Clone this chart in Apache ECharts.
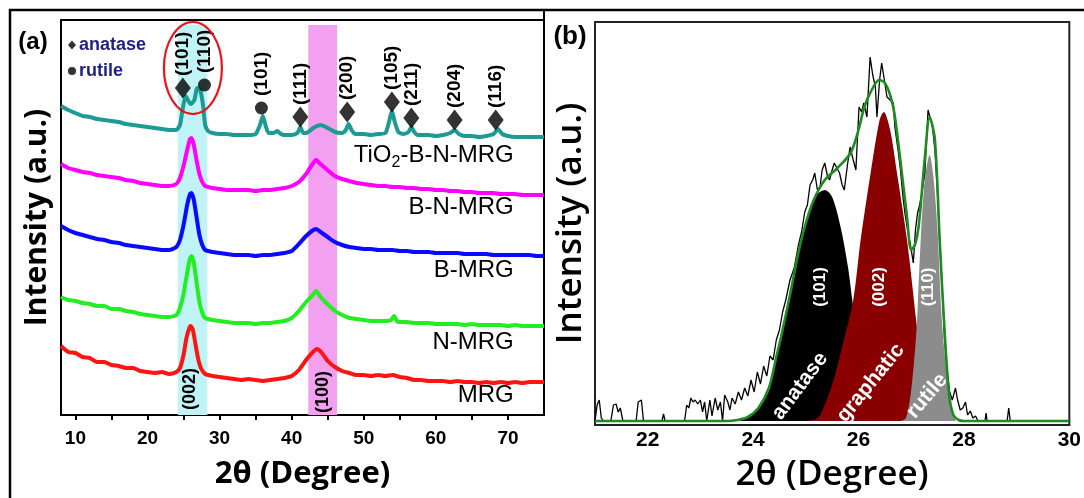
<!DOCTYPE html>
<html><head><meta charset="utf-8">
<script src="https://cdn.jsdelivr.net/npm/echarts@6/dist/echarts.min.js"></script>
<style>html,body{margin:0;padding:0;background:#fff}#c{width:1084px;height:498px}</style>
</head><body><div id="c"></div>
<script>
// ---------- Panel (a) data: [2theta, intensity (offset, a.u.)] ----------
const xTicksA = [10,15,20,25,30,35,40,45,50,55,60,65,70];
const xLabelsA = [10,20,30,40,50,60,70];
const xLabelsB = [22,24,26,28,30];

const MRG = [[8,69],[9,63],[10,62],[11,58],[12,57],[13,53],[14,53],[15,50],[16,49],[17,47],[18,47],[19,44],[20,43],[21,42],[22,43],[23,41],[24,43],[24.5,47],[25,60],[25.4,77],[25.8,87],[26,89],[26.3,85],[26.6,73],[27,57],[27.4,47],[28,41],[29,39],[30,38],[31,37],[32,36],[33,35],[34,36],[35,35],[36,34],[37,35],[38,36],[39,37],[40,39],[41,45],[42,55],[42.7,61],[43.5,66],[44.2,62],[45,54],[46,48],[47,44],[48,42],[49,40],[50,40],[51,39],[52,40],[53,39],[54,40],[55,38],[56,37],[57,35],[58,35],[59,34],[60,34],[61,34],[62,33],[63,34],[64,33],[65,33],[66,32],[67,33],[68,32],[69,33],[70,32],[71,33],[72,32],[73,33],[74,33],[75,33]];
const N_MRG = [[8,118],[9,115],[10,114],[11,112],[12,111],[13,109],[14,109],[15,106],[16,106],[17,104],[18,103],[19,101],[20,100],[21,99],[22,98],[23,98],[24,100],[24.5,107],[25,121],[25.5,142],[25.9,157],[26.1,159],[26.4,153],[26.8,133],[27.2,113],[27.6,102],[28,97],[29,95],[30,94],[31,93],[32,92],[33,92],[34,92],[35,91],[36,92],[37,92],[38,93],[39,94],[40,97],[41,104],[42,113],[42.8,119],[43.4,124],[44,118],[44.8,112],[46,104],[47,100],[48,97],[49,96],[50,95],[51,94],[52,94],[53,94],[53.8,95],[54.2,99],[54.6,94],[55,93],[56,93],[57,92],[58,92],[59,92],[60,91],[61,91],[62,91],[63,91],[64,90],[65,91],[66,90],[67,90],[68,90],[69,90],[70,89],[71,90],[72,89],[73,89],[74,89],[75,89]];
const B_MRG = [[8,189],[9,185],[10,182],[11,180],[12,178],[13,176],[14,175],[15,173],[16,172],[17,170],[18,169],[19,168],[20,167],[21,166],[22,165],[23,165],[24,168],[24.5,175],[25,190],[25.5,210],[25.9,221],[26.1,222],[26.4,216],[26.8,198],[27.2,180],[27.6,170],[28,165],[29,163],[30,162],[31,161],[32,160],[33,160],[34,160],[35,159],[36,160],[37,160],[38,161],[39,162],[40,164],[41,171],[42,179],[42.8,184],[43.4,186],[44,183],[44.8,179],[46,173],[47,170],[48,168],[49,167],[50,166],[51,166],[52,165],[53,165],[54,165],[55,164],[56,164],[57,163],[58,163],[59,163],[60,162],[61,162],[62,162],[63,162],[64,161],[65,161],[66,161],[67,161],[68,160],[69,160],[70,160],[71,160],[72,160],[73,160],[74,159],[75,159]];
const BN_MRG = [[8,251],[9,247],[10,245],[11,243],[12,242],[13,240],[14,239],[15,238],[16,237],[17,235],[18,234],[19,232],[20,231],[21,230],[22,229],[23,229],[24,231],[24.5,237],[25,249],[25.5,265],[25.9,276],[26.1,277],[26.4,271],[26.8,255],[27.2,241],[27.6,233],[28,229],[29,227],[30,226],[31,225],[32,225],[33,225],[34,225],[35,224],[36,225],[37,225],[38,226],[39,227],[40,229],[41,233],[42,241],[42.8,250],[43.4,255],[44,251],[44.8,246],[46,239],[47,236],[48,234],[49,232],[50,231],[51,230],[52,229],[53,229],[54,228],[55,228],[56,227],[57,227],[58,226],[59,226],[60,225],[61,225],[62,224],[63,224],[64,223],[65,223],[66,222],[67,222],[68,222],[69,221],[70,221],[71,221],[72,220],[73,220],[74,220],[75,220]];
const TIO2_BN_MRG = [[8,309],[9,305],[10,302],[11,299],[12,298],[13,296],[14,295],[15,294],[16,293],[17,291],[18,290],[19,289],[20,288],[21,287],[22,286],[23,285],[24,285],[24.5,290],[24.9,307],[25.3,319],[25.6,315],[26,311],[26.5,315],[26.9,327],[27.3,325],[27.7,310],[28,290],[28.4,284],[29,282],[30,281],[31,281],[32,280],[33,280],[34,280],[35,281],[35.6,290],[36,299],[36.4,289],[36.8,282],[37.5,282],[38,284],[38.5,281],[39,280],[40,280],[40.8,282],[41.2,288],[41.6,282],[42,282],[43,287],[44,290],[45,287],[46,283],[47,282],[47.5,285],[47.9,291],[48.3,285],[48.8,281],[50,281],[51,280],[52,281],[53,282],[53.5,293],[53.9,304],[54.3,293],[54.8,283],[55.5,281],[56.2,283],[56.6,288],[57,283],[57.5,280],[58,280],[59,280],[60,279],[61,280],[62,282],[62.6,285],[63.2,281],[64,279],[65,279],[66,278],[67,279],[68,281],[68.6,286],[69.2,281],[70,279],[71,278],[72,278],[73,278],[74,278],[75,278]];

const seriesNamesA = ['TiO2-B-N-MRG','B-N-MRG','B-MRG','N-MRG','MRG'];
const anataseMarks = [[24.9,327,'(101)'],[41.2,298,'(111)'],[47.7,303,'(200)'],[53.9,313,'(105)'],[56.6,297,'(211)'],[62.6,295,'(204)'],[68.3,295,'(116)']];
const rutileMarks = [[27.9,330,'(110)'],[35.8,307,'(101)']];
const bandsA = [[24.2,28.3,'(002)'],[42.3,46.3,'(100)']];

// ---------- Panel (b) data: [2theta, intensity] ----------
const rawB = [[21.00,0],[21.04,16],[21.08,21],[21.12,3],[21.16,0],[21.30,0],[21.35,16],[21.40,17],[21.44,9],[21.48,13],[21.53,0],[21.78,0],[21.82,19],[21.88,21],[21.92,0],[22.27,0],[22.30,7],[22.33,0],[22.70,0],[22.74,16],[22.78,13],[22.82,23],[22.86,19],[22.90,21],[22.95,17],[23.00,21],[23.04,9],[23.08,19],[23.12,0],[23.18,21],[23.22,5],[23.28,23],[23.33,11],[23.38,19],[23.42,0],[23.46,26],[23.52,19],[23.56,11],[23.60,23],[23.66,17],[23.72,29],[23.78,21],[23.84,33],[23.90,25],[23.96,41],[24.02,29],[24.08,49],[24.14,37],[24.20,55],[24.26,45],[24.32,65],[24.38,61],[24.44,81],[24.50,91],[24.56,109],[24.62,121],[24.70,141],[24.78,153],[24.86,176],[24.92,189],[24.98,209],[25.03,216],[25.08,236],[25.13,241],[25.17,248],[25.22,231],[25.27,234],[25.31,251],[25.36,258],[25.41,245],[25.45,241],[25.50,251],[25.54,258],[25.59,253],[25.64,248],[25.69,236],[25.73,231],[25.79,256],[25.84,274],[25.90,261],[25.95,251],[26.01,314],[26.06,309],[26.10,318],[26.16,304],[26.22,364],[26.27,346],[26.32,334],[26.35,304],[26.40,341],[26.44,358],[26.49,341],[26.54,324],[26.60,321],[26.66,318],[26.69,294],[26.75,271],[26.79,254],[26.84,226],[26.88,208],[26.93,191],[26.98,178],[27.04,158],[27.08,191],[27.12,208],[27.16,216],[27.20,228],[27.26,248],[27.30,291],[27.32,311],[27.36,303],[27.40,296],[27.45,271],[27.50,226],[27.54,181],[27.59,131],[27.63,84],[27.68,51],[27.73,29],[27.78,21],[27.84,33],[27.88,21],[27.93,11],[27.98,13],[28.03,19],[28.07,6],[28.12,10],[28.17,3],[28.22,5],[28.27,0],[28.40,0],[28.42,8],[28.44,0],[28.82,0],[28.85,13],[28.88,0],[30.00,0]];
const fitB = [[21.0,0],[23.5,0],[23.7,1],[23.9,4],[24.1,13],[24.3,33],[24.44,64],[24.53,84],[24.7,126],[24.85,166],[24.98,194],[25.15,221],[25.36,241],[25.6,253],[25.85,268],[26.0,291],[26.11,314],[26.25,331],[26.39,341],[26.5,338],[26.6,326],[26.68,308],[26.8,258],[26.92,204],[27.0,171],[27.07,176],[27.14,194],[27.26,264],[27.35,304],[27.45,281],[27.54,181],[27.64,84],[27.72,26],[27.8,6],[27.9,1],[28.0,0],[30.0,0]];
const anataseFit = [[23.7,0],[23.9,4],[24.1,14],[24.3,36],[24.5,76],[24.7,126],[24.9,180],[25.08,214],[25.2,226],[25.36,231],[25.5,224],[25.66,194],[25.8,154],[25.9,114],[26.0,81],[26.2,31],[26.4,9],[26.6,1],[26.8,0]];
const graphiticFit = [[25.0,0],[25.2,2],[25.3,9],[25.5,36],[25.7,76],[25.9,121],[26.04,181],[26.23,248],[26.4,301],[26.48,309],[26.6,291],[26.73,248],[26.92,181],[27.1,98],[27.2,51],[27.3,16],[27.4,3],[27.5,0]];
const rutileFit = [[26.8,0],[26.9,3],[27.0,31],[27.1,91],[27.15,148],[27.24,231],[27.35,266],[27.42,245],[27.5,190],[27.57,110],[27.63,70],[27.7,35],[27.78,10],[27.85,0]];
const peakNamesB = ['anatase','graphatic','rutile'];
const peakHklB = ['(101)','(002)','(110)'];

// ---------- chart ----------
const chart = echarts.init(document.getElementById('c'), null, {renderer: 'canvas'});
const BOLD_TICK = {fontFamily: 'Liberation Sans', fontWeight: 'bold', color: '#000'};
const colorsA = ['#1d9a94', '#ff00ff', '#0a0aff', '#22ee22', '#ff1414'];
const dataA = [TIO2_BN_MRG, BN_MRG, B_MRG, N_MRG, MRG];

const series = [];
series.push({
  type: 'line', xAxisIndex: 0, yAxisIndex: 0, data: [], silent: true, z: 1,
  markArea: {
    silent: true,
    data: [
      [{xAxis: bandsA[0][0], yAxis: 0, itemStyle: {color: '#bff3f6'}}, {xAxis: bandsA[0][1], yAxis: 390}],
      [{xAxis: bandsA[1][0], yAxis: 0, itemStyle: {color: '#f4a0f0'}}, {xAxis: bandsA[1][1], yAxis: 390}]
    ]
  }
});
dataA.forEach((d, i) => {
  series.push({
    name: seriesNamesA[i], type: 'line', xAxisIndex: 0, yAxisIndex: 0, data: d,
    showSymbol: false, smooth: 0.2, z: 3, silent: true,
    lineStyle: {color: colorsA[i], width: 4}
  });
});
series.push({name: 'anatase', type: 'scatter', xAxisIndex: 0, yAxisIndex: 0, data: anataseMarks,
  symbol: 'diamond', symbolSize: [16, 21], itemStyle: {color: '#000'}, z: 5, silent: true});
series.push({name: 'rutile', type: 'scatter', xAxisIndex: 0, yAxisIndex: 0, data: rutileMarks,
  symbol: 'circle', symbolSize: 13, itemStyle: {color: '#000'}, z: 5, silent: true});

// panel b
const fillColors = ['#000000', '#8a0000', '#8c8c8c'];
[anataseFit, graphiticFit, rutileFit].forEach((d, i) => {
  series.push({type: 'line', xAxisIndex: 1, yAxisIndex: 1, data: d, showSymbol: false, smooth: 0.3,
    lineStyle: {width: 0}, areaStyle: {color: fillColors[i], opacity: 1}, z: 2 + i, silent: true});
});
series.push({type: 'line', xAxisIndex: 1, yAxisIndex: 1, data: rawB, showSymbol: false,
  lineStyle: {color: '#000', width: 1.3}, z: 6, silent: true});
series.push({type: 'line', xAxisIndex: 1, yAxisIndex: 1, data: fitB, showSymbol: false, smooth: 0.3,
  lineStyle: {color: '#1f8a1f', width: 2.6}, z: 7, silent: true});

const option = {
  animation: false,
  backgroundColor: '#fff',
  legend: {
    data: [{name: 'anatase', icon: 'diamond'}, {name: 'rutile', icon: 'circle'}],
    orient: 'vertical', left: 63, top: 31, itemWidth: 8, itemHeight: 9, itemGap: 8,
    selectedMode: false,
    textStyle: {fontFamily: 'Liberation Sans', fontWeight: 'bold', fontSize: 18, color: '#1e1e88', padding: [0,0,0,-2]}
  },
  grid: [
    {left: 61, top: 20, width: 483, height: 395, show: true, borderColor: '#000', borderWidth: 2, backgroundColor: 'transparent'},
    {left: 595, top: 22, width: 479, height: 403, show: true, borderColor: '#222', borderWidth: 2, backgroundColor: 'transparent'}
  ],
  xAxis: [
    {gridIndex: 0, type: 'value', min: 8, max: 75, splitLine: {show: false},
     axisLine: {show: true, onZero: false, lineStyle: {color: '#000', width: 2}},
     axisTick: {show: true, customValues: xTicksA, length: 5, lineStyle: {color: '#000', width: 2}},
     axisLabel: Object.assign({customValues: xLabelsA, fontSize: 19, margin: 14}, BOLD_TICK),
     name: '2θ (Degree)', nameLocation: 'middle', nameGap: 44,
     nameTextStyle: {fontFamily: 'Open Sans', fontWeight: 'bold', fontSize: 31, color: '#000'}},
    {gridIndex: 1, type: 'value', min: 21, max: 30, splitLine: {show: false},
     axisLine: {show: true, onZero: false, lineStyle: {color: '#222', width: 2}},
     axisTick: {show: false},
     axisLabel: Object.assign({customValues: xLabelsB, fontSize: 21, margin: 5}, BOLD_TICK),
     name: '2θ (Degree)', nameLocation: 'middle', nameGap: 33,
     nameTextStyle: {fontFamily: 'Open Sans', fontWeight: 600, fontSize: 35, color: '#000'}}
  ],
  yAxis: [
    {gridIndex: 0, type: 'value', min: 0, max: 395, splitLine: {show: false},
     axisLine: {show: false}, axisTick: {show: false}, axisLabel: {show: false},
     name: 'Intensity (a.u.)', nameLocation: 'middle', nameGap: 9, nameRotate: 90,
     nameTextStyle: {fontFamily: 'Open Sans', fontWeight: 'bold', fontSize: 30, color: '#000'}},
    {gridIndex: 1, type: 'value', min: -4, max: 399, splitLine: {show: false},
     axisLine: {show: false}, axisTick: {show: false}, axisLabel: {show: false},
     name: 'Intensity (a.u.)', nameLocation: 'middle', nameGap: 6, nameRotate: 90,
     nameTextStyle: {fontFamily: 'Open Sans', fontWeight: 600, fontSize: 35, color: '#000'}}
  ],
  series: series
};
chart.setOption(option);

// ---------- annotations positioned through the axes ----------
const pA = (x, y) => chart.convertToPixel({gridIndex: 0}, [x, y]);
const pB = (x, y) => chart.convertToPixel({gridIndex: 1}, [x, y]);
const g = [];
// outer frame
g.push({type: 'rect', shape: {x: 10, y: 10, width: 1100, height: 520}, style: {fill: 'none', stroke: '#000', lineWidth: 2.5}, z: 100, silent: true});
g.push({type: 'line', shape: {x1: 544, y1: 10, x2: 544, y2: 21}, style: {stroke: '#000', lineWidth: 2}, z: 100, silent: true});
// panel letters
g.push({type: 'text', x: 33, y: 42, style: {text: '(a)', font: 'bold 24px "Liberation Sans"', fill: '#000', align: 'center', verticalAlign: 'middle'}, z: 100});
g.push({type: 'text', x: 570, y: 37, style: {text: '(b)', font: 'bold 26px "Liberation Sans"', fill: '#000', align: 'center', verticalAlign: 'middle'}, z: 100});
// hkl labels above the TiO2 markers (read bottom to top)
anataseMarks.concat(rutileMarks).forEach(m => {
  const p = pA(m[0], m[1]);
  g.push({type: 'text', x: p[0], y: p[1] - 12, rotation: Math.PI / 2, z: 100,
    style: {text: m[2], font: 'bold 19px "Liberation Sans"', fill: '#000', align: 'left', verticalAlign: 'middle'}});
});
// series name labels (right aligned at 2θ = 70.8)
const nameLevels = [260, 208, 145, 73, 20];
nameLevels.forEach((lv, i) => {
  const p = pA(70.8, lv);
  if (i === 0) {
    g.push({type: 'text', x: p[0], y: p[1], z: 100, style: {
      text: '{a|TiO}{s|2}{a|-B-N-MRG}', align: 'right', verticalAlign: 'middle',
      rich: {a: {fontFamily: 'Liberation Sans', fontSize: 24, fill: '#000', lineHeight: 28},
             s: {fontFamily: 'Liberation Sans', fontSize: 16, fill: '#000', lineHeight: 28, padding: [16, 0, 0, 0]}}
    }});
  } else {
    g.push({type: 'text', x: p[0], y: p[1], z: 100, style: {text: seriesNamesA[i], font: '24px "Liberation Sans"', fill: '#000', align: 'right', verticalAlign: 'middle'}});
  }
});
// band labels (read bottom to top)
[[25.9, 26], [44.4, 23]].forEach((q, i) => {
  const p = pA(q[0], q[1]);
  g.push({type: 'text', x: p[0], y: p[1], rotation: Math.PI / 2, z: 100,
    style: {text: bandsA[i][2], font: 'bold 18px "Liberation Sans"', fill: '#000', align: 'center', verticalAlign: 'middle'}});
});
// red ellipse around the TiO2 (101)/(110) doublet
const ec = pA(26.3, 347);
g.push({type: 'ellipse', shape: {cx: ec[0], cy: ec[1], rx: 29, ry: 46}, style: {fill: 'none', stroke: '#e8141b', lineWidth: 2.2}, z: 100, silent: true});
// panel b peak labels
[[25.27, 134], [26.39, 134], [27.33, 134]].forEach((q, i) => {
  const p = pB(q[0], q[1]);
  g.push({type: 'text', x: p[0], y: p[1], rotation: Math.PI / 2, z: 100,
    style: {text: peakHklB[i], font: 'bold 17px "Liberation Sans"', fill: '#fff', align: 'center', verticalAlign: 'middle'}});
});
[[24.89, 35, 0.925], [26.23, 38, 0.89], [27.3, 25, 0.87]].forEach((q, i) => {
  const p = pB(q[0], q[1]);
  g.push({type: 'text', x: p[0], y: p[1], rotation: q[2], z: 100,
    style: {text: peakNamesB[i], font: 'bold 21px "Liberation Sans"', fill: '#fff', align: 'center', verticalAlign: 'middle'}});
});
chart.setOption({graphic: g});
</script>
</body></html>
